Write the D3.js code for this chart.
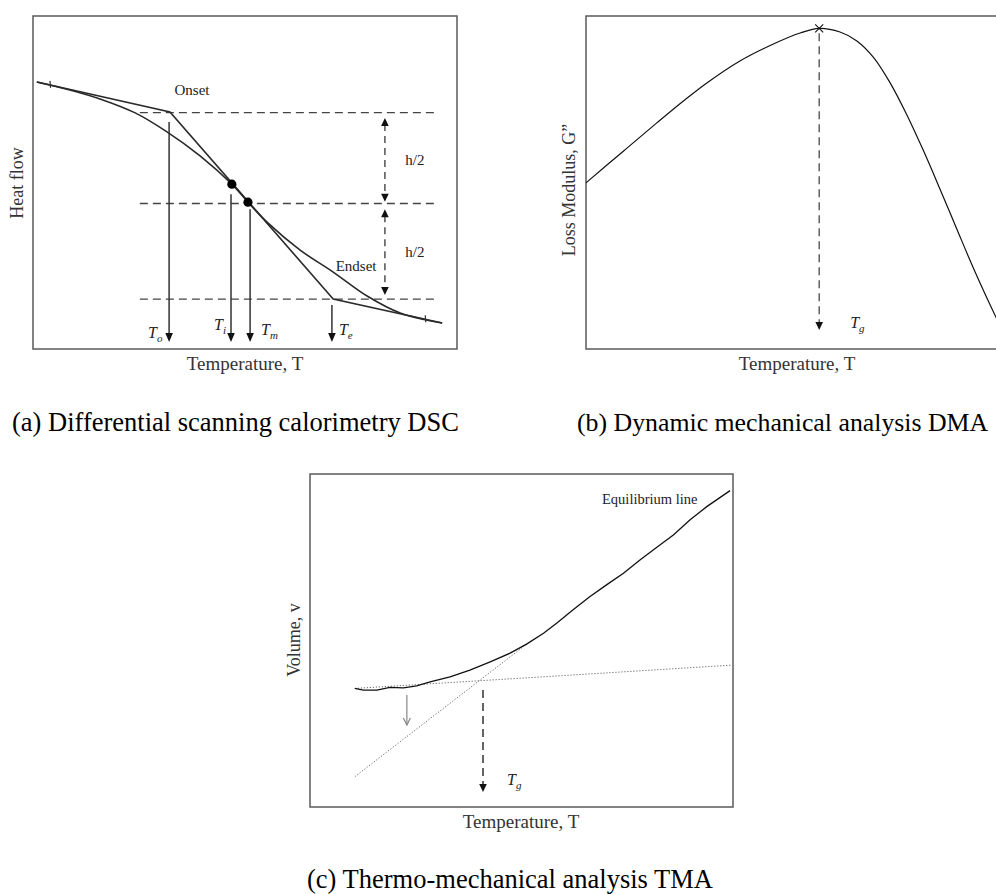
<!DOCTYPE html>
<html><head><meta charset="utf-8">
<script src="https://cdn.jsdelivr.net/npm/d3@7"></script>
<style>html,body{margin:0;padding:0;background:#fff;overflow:hidden}</style>
</head><body>
<script>
// ---------------- DATA ----------------
// (a) DSC  (temperature / heat flow, arbitrary units 0-100)
const dscTemp = [0.9, 8.7, 15.8, 24.1, 31.6, 39.4, 46.9, 50.7, 55.2, 63.0, 70.8, 78.8, 86.6, 96.5];
const dscHeat = [80.2, 77.8, 75.1, 70.9, 65.2, 58.0, 49.5, 44.1, 38.1, 29.7, 23.1, 15.9, 10.8, 7.8];
const dscTangentTemp = [0.9, 32.3, 70.8, 96.5];
const dscTangentHeat = [80.2, 71.2, 15.0, 7.8];
const dscLevels = [71.0, 43.7, 15.0];
const dscHalfTop = [69.4, 42.0];
const dscHalfBottom = [44.2, 16.2];
const dscHalfLabels = ["h/2", "h/2"];
const dscMarkNames = ["o", "i", "m", "e"];
const dscMarkTemp = [32.1, 46.7, 51.2, 70.5];
const dscMarkFrom = [68.2, 46.5, 42.0, 13.2];
const dscDotTemp = [46.9, 50.7];
const dscDotHeat = [49.5, 44.1];
const dscTickTemp = [4.0, 92.5];

// (b) DMA (temperature / loss modulus)
const dmaTemp = [0, 8.8, 16.7, 22.9, 28.5, 36.3, 44.2, 50.5, 55.0, 59.9, 63.8, 67.8, 71.7, 75.6, 79.6, 83.5, 87.4, 91.3, 96.7, 99.0];
const dmaLoss = [49.9, 59.4, 67.9, 74.4, 79.9, 86.5, 91.6, 94.9, 96.3, 95.2, 92.6, 87.6, 80.0, 70.5, 59.5, 48.0, 36.2, 24.5, 9.5, 3.5];
const dmaPeakTemp = 55.0;
const dmaPeakLoss = 96.3;
const dmaArrowEnd = 5.7;

// (c) TMA (temperature / volume)
const tmaTemp = [10.6, 12.6, 15.8, 18.9, 22.1, 25.2, 28.4, 33.1, 37.8, 42.6, 47.3, 51.2, 55.2, 58.3, 62.2, 66.2, 70.1, 74.1, 78.0, 82.0, 85.9, 89.8, 93.8, 99.3];
const tmaVol  = [35.6, 35.1, 35.1, 35.9, 35.8, 36.4, 37.6, 39.1, 41.1, 43.6, 46.2, 48.9, 52.2, 55.2, 59.2, 63.2, 66.7, 70.2, 74.2, 78.0, 81.7, 86.2, 90.2, 95.0];
const tmaGlassTemp = [10.6, 99.7];
const tmaGlassVol = [35.6, 42.6];
const tmaRubberTemp = [10.6, 51.2];
const tmaRubberVol = [9.1, 48.9];
const tmaOnsetTemp = 22.9, tmaOnsetFrom = 33.6, tmaOnsetTo = 24.6;
const tmaTg = 40.9, tmaTgFrom = 35.1, tmaTgTo = 4.5;

const captions = ["(a) Differential scanning calorimetry DSC", "(b) Dynamic mechanical analysis DMA", "(c) Thermo-mechanical analysis TMA"];

// ---------------- LAYOUT ----------------
const W = 996, H = 894;
const FONT = "'Liberation Serif','Times New Roman',serif";
const svg = d3.select("body").append("svg").attr("width", W).attr("height", H)
  .style("font-family", FONT);

function frame(x0, y0, x1, y1) {
  svg.append("rect").attr("x", x0).attr("y", y0).attr("width", x1 - x0).attr("height", y1 - y0)
    .attr("fill", "none").attr("stroke", "#5a5a5a").attr("stroke-width", 1.5);
  return {
    x: d3.scaleLinear().domain([0, 100]).range([x0, x1]),
    y: d3.scaleLinear().domain([0, 100]).range([y1, y0])
  };
}
function tri(g, x, tipY, dir, w, h, col) { // dir 1 = down, -1 = up
  g.append("path").attr("d", `M${x},${tipY} L${x - w},${tipY - dir * h} L${x + w},${tipY - dir * h} Z`)
    .attr("fill", col || "#111");
}
function axisLabel(x, y, txt, rot, size) {
  const t = svg.append("text").attr("text-anchor", "middle").attr("font-size", size || 18).attr("fill", "#333").text(txt);
  if (rot) t.attr("transform", `translate(${x},${y}) rotate(-90)`); else t.attr("x", x).attr("y", y);
}
function italicT(g, x, y, sub, anchor) {
  const t = g.append("text").attr("x", x).attr("y", y).attr("font-size", 16).attr("font-style", "italic")
    .attr("fill", "#222").attr("text-anchor", anchor || "start");
  t.append("tspan").text("T");
  t.append("tspan").attr("font-size", 11).attr("dy", 4).text(sub);
}

// ---------------- (a) DSC ----------------
{
  const s = frame(33, 16, 457, 349);
  const g = svg.append("g");
  const line = d3.line().x(d => s.x(d[0])).y(d => s.y(d[1]));
  dscLevels.forEach(v => {
    g.append("line").attr("x1", s.x(25.2)).attr("x2", s.x(94.8)).attr("y1", s.y(v)).attr("y2", s.y(v))
      .attr("stroke", "#444").attr("stroke-width", 1.3).attr("stroke-dasharray", "8,5");
  });
  g.append("path").datum(dscTangentTemp.map((t, i) => [t, dscTangentHeat[i]]))
    .attr("d", line).attr("fill", "none").attr("stroke", "#2a2a2a").attr("stroke-width", 1.6);
  g.append("path").datum(dscTemp.map((t, i) => [t, dscHeat[i]]))
    .attr("d", line.curve(d3.curveCatmullRom)).attr("fill", "none").attr("stroke", "#2a2a2a").attr("stroke-width", 1.6);
  const tanY = d3.scaleLinear().domain(dscTangentTemp).range(dscTangentHeat);
  dscTickTemp.forEach(t => {
    const x = s.x(t), y = s.y(tanY(t));
    g.append("line").attr("x1", x).attr("x2", x + 0.6).attr("y1", y - 4).attr("y2", y + 3)
      .attr("stroke", "#333").attr("stroke-width", 1.2);
  });
  dscDotTemp.forEach((t, i) => g.append("circle").attr("cx", s.x(t)).attr("cy", s.y(dscDotHeat[i])).attr("r", 4.6).attr("fill", "#000"));
  const tipY = s.y(2.1);
  const labelPos = [{dx: -21, dy: -4}, {dx: -17, dy: -12}, {dx: 11, dy: -7}, {dx: 7, dy: -7}];
  dscMarkTemp.forEach((t, i) => {
    const x = s.x(t);
    g.append("line").attr("x1", x).attr("x2", x).attr("y1", s.y(dscMarkFrom[i])).attr("y2", tipY - 6)
      .attr("stroke", "#333").attr("stroke-width", 1.5);
    tri(g, x, tipY, 1, 3.8, 9, "#111");
    italicT(g, x + labelPos[i].dx, tipY + labelPos[i].dy, dscMarkNames[i]);
  });
  const ax = s.x(83.0);
  dscHalfTop.forEach((top, i) => {
    const y0 = s.y(top), y1 = s.y(dscHalfBottom[i]);
    g.append("line").attr("x1", ax).attr("x2", ax).attr("y1", y0 + 6).attr("y2", y1 - 6)
      .attr("stroke", "#444").attr("stroke-width", 1.4).attr("stroke-dasharray", "7,5");
    tri(g, ax, y0, -1, 3.8, 8, "#111");
    tri(g, ax, y1, 1, 3.8, 8, "#111");
    g.append("text").attr("x", ax + 30).attr("y", (y0 + y1) / 2 + 5).attr("text-anchor", "middle")
      .attr("font-size", 15).attr("fill", "#222").text(dscHalfLabels[i]);
  });
  g.append("text").attr("x", s.x(37.5)).attr("y", 95).attr("text-anchor", "middle").attr("font-size", 15).attr("fill", "#222").text("Onset");
  g.append("text").attr("x", s.x(76.2)).attr("y", 271).attr("text-anchor", "middle").attr("font-size", 15).attr("fill", "#222").text("Endset");
  axisLabel(23, 183, "Heat flow", true);
  axisLabel(245, 370, "Temperature, T", false, 19);
}

// ---------------- (b) DMA ----------------
{
  const s = frame(586, 16, 1010, 349);
  const g = svg.append("g");
  const line = d3.line().x(d => s.x(d[0])).y(d => s.y(d[1])).curve(d3.curveCatmullRom);
  g.append("path").datum(dmaTemp.map((t, i) => [t, dmaLoss[i]]))
    .attr("d", line).attr("fill", "none").attr("stroke", "#111").attr("stroke-width", 1.2);
  const px = s.x(dmaPeakTemp), py = s.y(dmaPeakLoss);
  g.append("path").attr("d", `M${px - 4},${py - 4}L${px + 4},${py + 4}M${px - 4},${py + 4}L${px + 4},${py - 4}`)
    .attr("stroke", "#111").attr("stroke-width", 1.1);
  const tipY = s.y(dmaArrowEnd);
  g.append("line").attr("x1", px).attr("x2", px).attr("y1", py + 5).attr("y2", tipY - 6)
    .attr("stroke", "#555").attr("stroke-width", 1.4).attr("stroke-dasharray", "8,5");
  tri(g, px, tipY, 1, 3.8, 8, "#111");
  italicT(g, px + 31, tipY - 2, "g");
  axisLabel(575, 190, "Loss Modulus, G\u201D", true);
  axisLabel(797, 370, "Temperature, T", false, 19);
}

// ---------------- (c) TMA ----------------
{
  const s = frame(310, 474, 733, 807);
  const g = svg.append("g");
  const line = d3.line().x(d => s.x(d[0])).y(d => s.y(d[1]));
  g.append("path").datum(tmaGlassTemp.map((t, i) => [t, tmaGlassVol[i]]))
    .attr("d", line).attr("fill", "none").attr("stroke", "#666").attr("stroke-width", 1).attr("stroke-dasharray", "1.2,1.8");
  g.append("path").datum(tmaRubberTemp.map((t, i) => [t, tmaRubberVol[i]]))
    .attr("d", line).attr("fill", "none").attr("stroke", "#666").attr("stroke-width", 1).attr("stroke-dasharray", "1.2,1.8");
  g.append("path").datum(tmaTemp.map((t, i) => [t, tmaVol[i]]))
    .attr("d", line).attr("fill", "none").attr("stroke", "#111").attr("stroke-width", 1.3);
  const ox = s.x(tmaOnsetTemp), oy0 = s.y(tmaOnsetFrom), oy1 = s.y(tmaOnsetTo);
  g.append("line").attr("x1", ox).attr("x2", ox).attr("y1", oy0).attr("y2", oy1).attr("stroke", "#888").attr("stroke-width", 1.2);
  g.append("path").attr("d", `M${ox - 3.5},${oy1 - 7}L${ox},${oy1}L${ox + 3.5},${oy1 - 7}`).attr("fill", "none").attr("stroke", "#888").attr("stroke-width", 1.2);
  const tx = s.x(tmaTg), ty0 = s.y(tmaTgFrom), ty1 = s.y(tmaTgTo);
  g.append("line").attr("x1", tx).attr("x2", tx).attr("y1", ty0).attr("y2", ty1 - 6)
    .attr("stroke", "#222").attr("stroke-width", 1.4).attr("stroke-dasharray", "8,5");
  tri(g, tx, ty1, 1, 3.8, 8, "#111");
  italicT(g, tx + 24, ty1 - 7, "g");
  g.append("text").attr("x", s.x(91.6)).attr("y", 504).attr("text-anchor", "end").attr("font-size", 14.5).attr("fill", "#222").text("Equilibrium line");
  axisLabel(300, 640, "Volume, v", true);
  axisLabel(521, 828, "Temperature, T", false, 19);
}

// ---------------- captions ----------------
svg.append("text").attr("x", 12).attr("y", 431).attr("font-size", 26.5).attr("fill", "#000").text(captions[0]);
svg.append("text").attr("x", 577).attr("y", 431).attr("font-size", 25.8).attr("fill", "#000").text(captions[1]);
svg.append("text").attr("x", 510).attr("y", 888).attr("text-anchor", "middle").attr("font-size", 26.5).attr("fill", "#000").text(captions[2]);
</script>
</body></html>
